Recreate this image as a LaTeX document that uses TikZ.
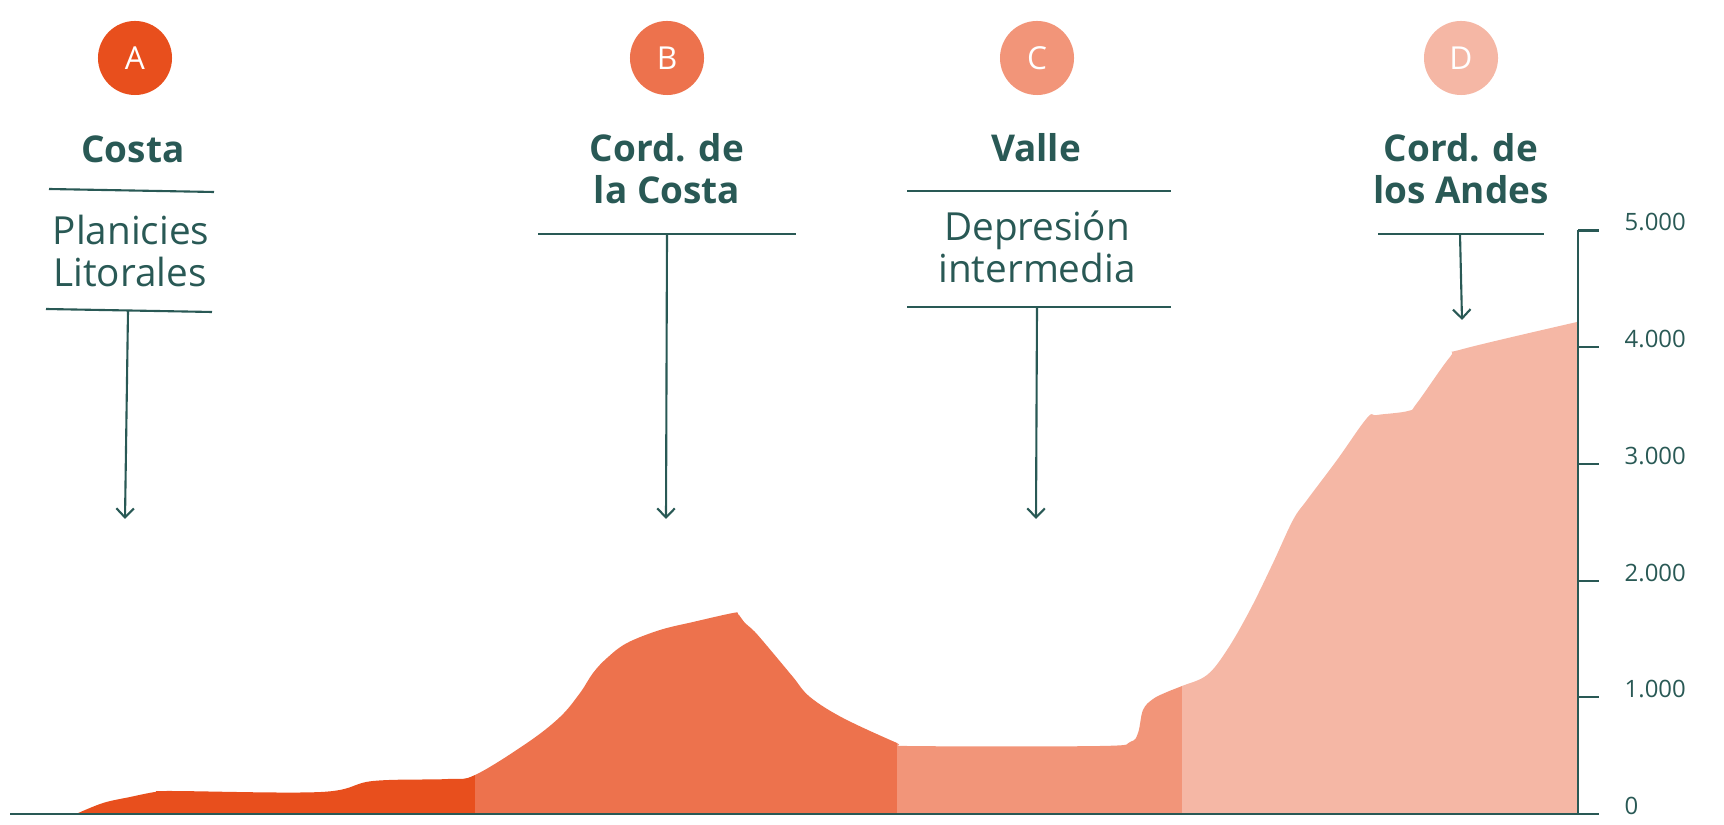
\documentclass[tikz,border=0pt]{standalone}
\usepackage{fontspec}
\setmainfont{Open Sans}
\usetikzlibrary{arrows.meta}

\definecolor{tealtext}{RGB}{41,89,85}
\definecolor{costaA}{RGB}{232,79,29}
\definecolor{cordB}{RGB}{237,114,77}
\definecolor{valleC}{RGB}{242,149,121}
\definecolor{andesD}{RGB}{245,183,165}

\tikzset{
  zonemark/.style={circle, fill=#1, inner sep=0pt, minimum size=0.74cm,
    text=white, font=\fontsize{9}{10}\selectfont},
  zonetitle/.style={anchor=base, inner sep=0pt, text=tealtext,
    font=\fontsize{10.5}{12}\selectfont\bfseries},
  zonesub/.style={anchor=base, inner sep=0pt, text=tealtext,
    font=\fontsize{11}{12}\selectfont},
  seprule/.style={tealtext, line width=0.6pt},
  pointer/.style={tealtext, line width=0.6pt, -{Straight Barb[length=2.6pt,width=5pt]}},
  altlabel/.style={anchor=west, inner sep=0pt, text=tealtext,
    font=\fontsize{6.8}{8}\selectfont}
}

\begin{document}
\begin{tikzpicture}[x=0.01cm, y=-0.01cm]
    \useasboundingbox (0,0) rectangle (1724,825);

    % Terrain profile, west to east
    \def\terrain{plot[smooth, tension=0.6] coordinates {
        (76,814) (103,803) (130,797) (155,792) (172,791) (321,792)
        (373,781) (448,779) (475,775) (527,743)
        (560,717) (580,693) (593,673) (607,658) (627,643) (660,630)
        (693,622) (733,613) (738,614) (745,623) (755,632) (773,653)
        (793,677) (810,697) (843,718) (897,743) (907,746) (1100,746)
        (1130,742) (1138,733) (1143,710) (1153,699) (1167,692) (1182,686)
        (1207,675) (1227,650) (1250,610) (1273,563) (1293,520) (1307,500)
        (1337,460) (1367,418) (1377,415) (1408,411) (1417,403) (1450,357)
        (1463,349) (1577,322)} -- (1577,814) -- cycle}

    % One colour per zone
    \begin{scope}
        \clip (0,0) rectangle (475,825);
        \fill[costaA] \terrain;
    \end{scope}
    \begin{scope}
        \clip (475,0) rectangle (897,825);
        \fill[cordB] \terrain;
    \end{scope}
    \begin{scope}
        \clip (897,0) rectangle (1182,825);
        \fill[valleC] \terrain;
    \end{scope}
    \begin{scope}
        \clip (1182,0) rectangle (1577,825);
        \fill[andesD] \terrain;
    \end{scope}

    % Altitude axis
    \draw[seprule, line width=0.8pt] (10,814) -- (1599,814);
    \draw[seprule] (1578,230) -- (1578,814);
    \foreach \v/\t in {0/0, 1/1.000, 2/2.000, 3/3.000, 4/4.000, 5/5.000} {
        \draw[seprule] (1578,{814-116.7*\v}) -- (1599,{814-116.7*\v});
        \node[altlabel] (alt\v) at (1624,{806-116.7*\v}) {\t};
    }

    % Zone markers
    \node[zonemark=costaA] (circA) at (135,58) {A};
    \node[zonemark=cordB] (circB) at (667,58) {B};
    \node[zonemark=valleC] (circC) at (1037,58) {C};
    \node[zonemark=andesD] (circD) at (1461,58) {D};

    % A: Costa
    \node[zonetitle] (titleA) at (133,163) {Costa};
    \draw[seprule] (49,189) -- (214,192);
    \node[zonesub] (subA1) at (131,245) {Planicies};
    \node[zonesub] (subA2) at (130,287) {Litorales};
    \draw[seprule] (46,309) -- (212,312);
    \coordinate (pA) at (128,311);
    \coordinate (tipA) at (125,519);
    \draw[pointer] (pA) -- (tipA);

    % B: Cordillera de la Costa
    \node[zonetitle] (titleB1) at (667,162) {Cord. de};
    \node[zonetitle] (titleB2) at (667,204) {la Costa};
    \draw[seprule] (538,234) -- (796,234);
    \coordinate (pB) at (667,234);
    \coordinate (tipB) at (666,519);
    \draw[pointer] (pB) -- (tipB);

    % C: Valle
    \node[zonetitle] (titleC) at (1036,162) {Valle};
    \draw[seprule] (907,191) -- (1171,191);
    \node[zonesub] (subC1) at (1037,241) {Depresión};
    \node[zonesub] (subC2) at (1037,283) {intermedia};
    \draw[seprule] (907,307) -- (1171,307);
    \coordinate (pC) at (1037,307);
    \coordinate (tipC) at (1036,519);
    \draw[pointer] (pC) -- (tipC);

    % D: Cordillera de los Andes
    \node[zonetitle] (titleD1) at (1461,162) {Cord. de};
    \node[zonetitle] (titleD2) at (1461,204) {los Andes};
    \draw[seprule] (1378,234) -- (1544,234);
    \coordinate (pD) at (1460,234);
    \coordinate (tipD) at (1462,320);
    \draw[pointer] (pD) -- (tipD);
\end{tikzpicture}
\end{document}
